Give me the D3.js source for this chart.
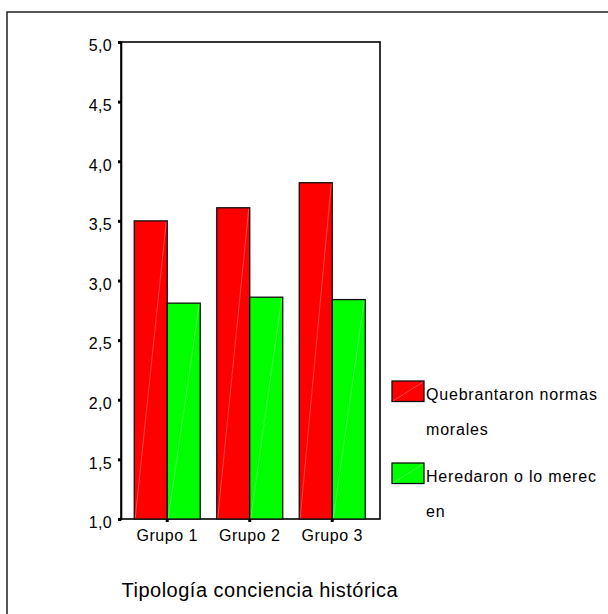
<!DOCTYPE html>
<html>
<head>
<meta charset="utf-8">
<script src="https://cdn.jsdelivr.net/npm/d3@7"></script>
<style>
  html, body { margin: 0; padding: 0; background: #fff; }
  svg { display: block; font-family: "Liberation Sans", Arial, sans-serif; }
</style>
</head>
<body>
<svg id="chart" width="608" height="614"></svg>
<script>
// Mean scores per group, two series
const groups = ["Grupo 1", "Grupo 2", "Grupo 3"];
const seriesKeys = ["quebrantaron", "heredaron"];
const quebrantaron = [3.50, 3.61, 3.82];
const heredaron = [2.81, 2.86, 2.84];
const seriesColors = ["#ff0000", "#00ff00"];
const legendLines = [["Quebrantaron normas", "morales"], ["Heredaron o lo merec", "en"]];
const yTicks = [1.0, 1.5, 2.0, 2.5, 3.0, 3.5, 4.0, 4.5, 5.0];
const axisTitle = "Tipología conciencia histórica";

const seriesValues = { quebrantaron, heredaron };

const svg = d3.select("#chart");
const locale = d3.formatLocale({ decimal: ",", thousands: ".", grouping: [3], currency: ["", "€"] });
const fmt = locale.format(".1f");

// Outer frame
svg.append("rect")
  .attr("x", 7).attr("y", 12).attr("width", 700).attr("height", 700)
  .attr("fill", "none").attr("stroke", "#222").attr("stroke-width", 1.5);

const plot = { left: 121, right: 380, top: 42, bottom: 519 };

const y = d3.scaleLinear().domain([1, 5]).range([plot.bottom, plot.top]);
const x0 = d3.scaleBand().domain(groups)
  .range([plot.left + 5, plot.right - 6.5])
  .paddingInner(0.2).paddingOuter(0.1);
const x1 = d3.scaleBand().domain(seriesKeys).range([0, x0.bandwidth()]);

// Plot frame
svg.append("rect")
  .attr("x", plot.left).attr("y", plot.top)
  .attr("width", plot.right - plot.left).attr("height", plot.bottom - plot.top)
  .attr("fill", "none").attr("stroke", "#000").attr("stroke-width", 1.6);

// Bars
const gBars = svg.append("g");
groups.forEach((g, i) => {
  seriesKeys.forEach((k, j) => {
    const v = seriesValues[k][i];
    const bx = x0(g) + x1(k);
    const bw = x1.bandwidth();
    const by = y(v);
    const bh = y(1) - y(v);
    gBars.append("rect")
      .attr("x", bx).attr("y", by).attr("width", bw).attr("height", bh)
      .attr("fill", seriesColors[j])
      .attr("stroke", "#111").attr("stroke-width", 1.3);
    gBars.append("line")
      .attr("x1", bx + 1).attr("y1", y(1) - 1)
      .attr("x2", bx + bw - 1).attr("y2", by + 1)
      .attr("stroke", "#fff").attr("stroke-opacity", 0.35).attr("stroke-width", 0.8);
  });
});

// Y axis
const yAxis = svg.append("g")
  .attr("transform", `translate(${plot.left},0)`)
  .call(d3.axisLeft(y).tickValues(yTicks).tickFormat(fmt).tickSize(3).tickPadding(6));
yAxis.select(".domain").attr("stroke", "#000").attr("stroke-width", 1.6);
yAxis.selectAll(".tick line").attr("stroke", "#000").attr("stroke-width", 3);
yAxis.selectAll(".tick text")
  .attr("dy", "0.55em")
  .attr("fill", "#000")
  .style("font-size", "16px")
  .style("letter-spacing", "0.3px");

// X axis
const xAxis = svg.append("g")
  .attr("transform", `translate(0,${plot.bottom})`)
  .call(d3.axisBottom(x0).tickSize(3).tickPadding(8));
xAxis.select(".domain").remove();
xAxis.selectAll(".tick line").attr("stroke", "#000").attr("stroke-width", 3);
xAxis.selectAll(".tick text")
  .attr("fill", "#000")
  .style("font-size", "16px")
  .style("letter-spacing", "0.5px");

// Axis title
svg.append("text")
  .attr("x", 121.5).attr("y", 597)
  .attr("fill", "#000")
  .style("font-size", "20px")
  .style("letter-spacing", "0.5px")
  .text(axisTitle);

// Legend
const legend = svg.append("g");
const legendRows = [381, 463];
seriesKeys.forEach((k, j) => {
  const ly = legendRows[j];
  legend.append("rect")
    .attr("x", 392).attr("y", ly).attr("width", 32).attr("height", 20.5)
    .attr("fill", seriesColors[j]).attr("stroke", "#111").attr("stroke-width", 1.3);
  legend.append("line")
    .attr("x1", 393).attr("y1", ly + 20).attr("x2", 423).attr("y2", ly + 1)
    .attr("stroke", "#fff").attr("stroke-opacity", 0.35).attr("stroke-width", 0.8);
  legendLines[j].forEach((t, li) => {
    legend.append("text")
      .attr("x", 426).attr("y", ly + 19 + li * 34.5)
      .attr("fill", "#000")
      .style("font-size", "16px")
      .style("letter-spacing", "0.8px")
      .text(t);
  });
});
</script>
</body>
</html>
